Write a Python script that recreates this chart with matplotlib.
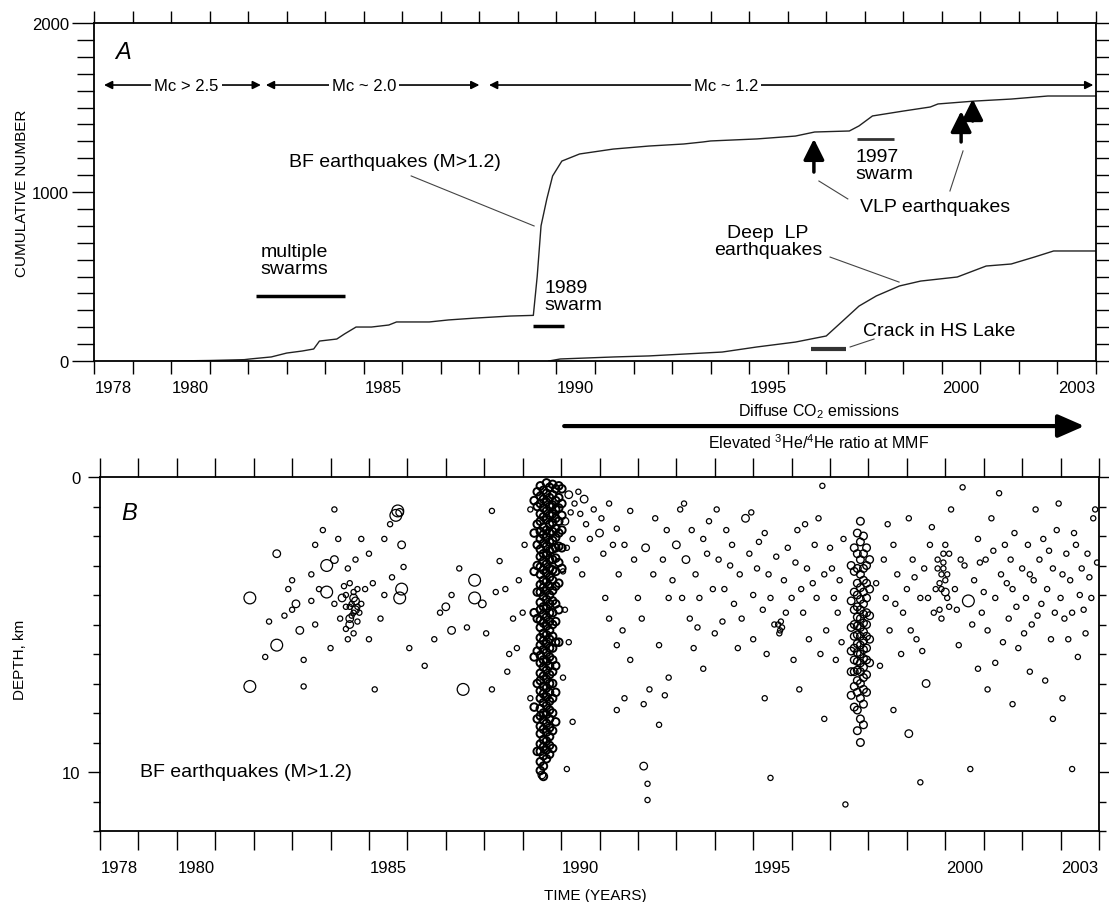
import matplotlib.pyplot as plt
from matplotlib.ticker import FixedLocator, FixedFormatter, NullFormatter, MultipleLocator

plt.rcParams['font.family'] = ['Liberation Sans', 'DejaVu Sans']
plt.rcParams['mathtext.default'] = 'regular'

# ---- panel A: cumulative number of events ----
bf_years = [1980.0, 1981.0, 1981.9, 1982.05, 1982.6, 1983.0, 1983.4, 1983.7, 1983.85, 1984.3,
            1984.5, 1984.8, 1985.2, 1985.65, 1985.85, 1986.7, 1987.2, 1987.9, 1988.8, 1989.4,
            1989.5, 1989.6, 1989.75, 1989.9, 1990.14, 1990.6, 1991.47, 1992.4, 1993.3, 1993.8,
            1994.0, 1995.2, 1996.2, 1996.7, 1997.6, 1997.85, 1998.2, 1999.0, 1999.7, 1999.9,
            2000.85, 2001.8, 2002.75, 2004.0]
bf_counts = [0, 3, 8, 12, 24, 47, 59, 71, 118, 130,
             160, 201, 201, 213, 231, 231, 243, 254, 266, 270,
             500, 800, 959, 1095, 1183, 1225, 1254, 1272, 1284, 1296,
             1302, 1314, 1331, 1355, 1361, 1391, 1450, 1479, 1503, 1521,
             1538, 1550, 1568, 1568]

lp_years = [1989.8, 1990.1, 1991.5, 1992.4, 1993.3, 1994.3, 1995.2, 1996.2, 1997.0, 1997.4,
            1997.85, 1998.3, 1998.9, 1999.45, 2000.4, 2001.15, 2001.8, 2002.4, 2002.9, 2004.0]
lp_counts = [0, 12, 24, 30, 41, 53, 83, 112, 148, 231,
             325, 385, 444, 473, 497, 562, 574, 615, 651, 651]

year_labels = [1978, 1980, 1985, 1990, 1995, 2000, 2003]

mc_spans = [(1978.26, 1982.33), (1982.46, 1988.0), (1988.25, 2003.93)]
mc_labels = ['Mc > 2.5', 'Mc ~ 2.0', 'Mc ~ 1.2']
mc_label_years = [1980.4, 1985.0, 1994.4]

vlp_years = [1996.68, 2000.5, 2000.8]
vlp_tail = [1118, 1296, 1420]
vlp_tip = [1314, 1479, 1550]

# ---- panel B: hypocentres (year, depth km, size class) ----
quakes_1981_1986 = [
    (1981.9, 4.1, 3), (1981.9, 7.1, 3), (1982.6, 2.6, 2), (1982.3, 6.1, 1), (1982.6, 5.7, 3),
    (1982.4, 4.9, 1), (1983.0, 4.5, 1), (1983.1, 4.3, 2), (1982.9, 3.8, 1), (1983.0, 3.5, 1),
    (1983.2, 5.2, 2), (1983.3, 6.2, 1), (1983.3, 7.1, 1), (1983.5, 3.3, 1), (1983.6, 2.3, 1),
    (1983.7, 3.8, 1), (1983.8, 1.8, 1), (1983.9, 3.0, 3), (1983.9, 3.9, 3), (1984.1, 4.3, 1),
    (1984.1, 2.8, 2), (1984.2, 2.1, 1), (1984.25, 4.8, 1), (1984.3, 4.1, 2), (1984.5, 3.6, 1),
    (1984.6, 4.1, 2), (1984.65, 4.5, 2), (1984.7, 3.8, 1), (1984.5, 4.8, 2), (1984.8, 4.3, 1),
    (1984.45, 3.1, 1), (1984.65, 2.8, 1), (1984.8, 2.1, 1), (1984.9, 3.8, 1), (1985.0, 2.6, 1),
    (1985.15, 7.2, 1), (1985.3, 4.8, 1), (1985.4, 4.0, 1), (1985.4, 2.1, 1), (1985.55, 1.6, 1),
    (1985.75, 1.15, 3), (1985.7, 1.3, 3), (1985.8, 1.2, 2), (1985.85, 2.3, 2), (1985.85, 3.8, 3),
    (1985.8, 4.1, 3), (1985.9, 3.05, 1), (1986.05, 5.8, 1), (1985.0, 5.5, 1), (1984.4, 5.15, 1),
    (1984.1, 1.1, 1), (1984.0, 5.8, 1), (1984.4, 4.4, 1), (1984.55, 4.7, 1), (1984.6, 3.9, 1),
    (1984.7, 4.9, 1), (1984.5, 5.0, 2), (1984.35, 3.7, 1), (1984.75, 4.6, 1), (1984.6, 5.3, 1),
    (1984.45, 5.5, 1), (1984.55, 4.3, 1), (1984.4, 4.0, 1), (1984.65, 4.2, 2), (1984.7, 4.4, 1),
    (1984.5, 4.4, 1), (1984.6, 4.6, 1), (1983.5, 4.2, 1), (1983.6, 5.0, 1), (1982.8, 4.7, 1),
    (1985.6, 3.4, 1), (1985.1, 3.6, 1),
]
quakes_1986_1989 = [
    (1986.45, 6.4, 1), (1986.7, 5.5, 1), (1986.85, 4.6, 1), (1987.0, 4.4, 2), (1987.15, 4.0, 1),
    (1987.15, 5.2, 2), (1987.35, 3.1, 1), (1987.45, 7.2, 3), (1987.55, 5.1, 1), (1987.75, 3.5, 3),
    (1987.75, 4.1, 3), (1987.95, 4.3, 2), (1988.05, 5.3, 1), (1988.2, 7.2, 1), (1988.3, 3.9, 1),
    (1988.4, 2.85, 1), (1988.65, 6.0, 1), (1988.75, 4.8, 1), (1989.0, 4.6, 1), (1989.05, 2.3, 1),
    (1989.2, 1.1, 1), (1988.2, 1.15, 1), (1988.55, 3.8, 1), (1988.9, 3.5, 1), (1988.85, 5.8, 1),
    (1989.2, 7.5, 1), (1988.6, 6.6, 1),
]
swarm89_years = [1989.3, 1989.38, 1989.46, 1989.54, 1989.62, 1989.70, 1989.78, 1989.86,
                 1989.94, 1990.02]
swarm89_depths = [
    [0.8, 1.9, 3.2, 4.6, 6.1, 7.8],
    [0.5, 1.0, 1.6, 2.3, 3.0, 3.9, 4.8, 5.9, 7.0, 8.2, 9.3],
    [0.3, 0.65, 0.9, 1.25, 1.5, 1.85, 2.1, 2.45, 2.7, 3.05, 3.3, 3.65, 3.9, 4.25, 4.5, 4.85,
     5.1, 5.45, 5.7, 6.05, 6.3, 6.65, 6.9, 7.25, 7.5, 7.85, 8.1, 8.45, 8.7, 9.05, 9.3, 9.65, 9.95],
    [0.45, 0.75, 1.05, 1.35, 1.7, 1.95, 2.25, 2.6, 2.85, 3.15, 3.5, 3.75, 4.05, 4.4, 4.65,
     4.95, 5.3, 5.55, 5.85, 6.2, 6.45, 6.75, 7.1, 7.35, 7.65, 8.0, 8.25, 8.55, 8.9, 9.15,
     9.45, 9.8, 10.15],
    [0.2, 0.55, 0.85, 1.15, 1.45, 1.8, 2.05, 2.35, 2.65, 2.95, 3.25, 3.55, 3.85, 4.15, 4.45,
     4.75, 5.05, 5.35, 5.65, 5.95, 6.25, 6.55, 6.85, 7.15, 7.45, 7.75, 8.05, 8.35, 8.65, 8.95,
     9.25, 9.55],
    [0.35, 0.7, 1.0, 1.3, 1.6, 1.9, 2.2, 2.5, 2.8, 3.1, 3.4, 3.7, 4.0, 4.3, 4.6, 4.9, 5.2, 5.5,
     5.8, 6.1, 6.4, 6.7, 7.0, 7.3, 7.6, 7.9, 8.2, 8.5, 8.8, 9.1, 9.4],
    [0.25, 0.6, 0.95, 1.25, 1.55, 1.85, 2.15, 2.45, 2.8, 3.15, 3.5, 3.85, 4.2, 4.6, 5.0, 5.4,
     5.8, 6.2, 6.6, 7.0, 7.5, 8.0, 8.6, 9.2],
    [0.4, 0.8, 1.1, 1.4, 1.75, 2.05, 2.4, 2.75, 3.2, 3.7, 4.3, 4.9, 5.6, 6.4, 7.3, 8.3],
    [0.3, 0.7, 1.05, 1.5, 1.9, 2.35, 2.9, 3.6, 4.5, 5.6],
    [0.4, 0.9, 1.3, 1.8, 2.4, 3.1],
]
quakes_1990_1994 = [
    (1990.2, 0.6, 2), (1990.35, 0.9, 1), (1990.5, 1.25, 1), (1990.6, 0.75, 2), (1990.65, 1.6, 1),
    (1990.75, 2.1, 1), (1990.85, 1.1, 1), (1991.0, 1.9, 2), (1991.1, 2.6, 1), (1991.05, 1.4, 1),
    (1991.25, 0.9, 1), (1991.35, 2.3, 1), (1991.45, 1.75, 1), (1990.3, 2.1, 1), (1990.4, 2.8, 1),
    (1990.55, 3.3, 1), (1990.1, 1.5, 2), (1990.15, 2.4, 1), (1990.05, 3.2, 1), (1990.25, 1.2, 1),
    (1990.45, 0.5, 1), (1990.1, 4.5, 1), (1990.2, 5.6, 1), (1990.05, 6.8, 1), (1990.3, 8.3, 1),
    (1991.5, 3.3, 1), (1991.65, 2.3, 1), (1991.8, 1.15, 1), (1991.9, 2.8, 1), (1992.0, 4.1, 1),
    (1992.1, 4.8, 1), (1992.2, 2.4, 2), (1992.4, 3.3, 1), (1992.45, 1.4, 1), (1992.55, 5.7, 1),
    (1992.65, 2.8, 1), (1992.75, 1.8, 1), (1992.8, 4.1, 1), (1992.9, 3.5, 1), (1993.0, 2.3, 2),
    (1993.1, 1.1, 1), (1993.15, 4.1, 1), (1993.25, 2.8, 2), (1993.35, 4.8, 1), (1993.4, 1.8, 1),
    (1993.5, 3.3, 1), (1993.6, 4.1, 1), (1993.7, 2.1, 1), (1993.8, 2.6, 1), (1993.95, 3.8, 1),
    (1994.05, 1.1, 1), (1991.15, 4.1, 1), (1991.25, 4.8, 1), (1991.45, 5.7, 1), (1991.6, 5.2, 1),
    (1991.8, 6.2, 1), (1992.15, 7.7, 1), (1992.3, 7.2, 1), (1992.55, 8.4, 1), (1992.7, 7.4, 1),
    (1992.8, 6.8, 1), (1993.45, 5.8, 1), (1993.7, 6.5, 1), (1994.0, 5.3, 1), (1991.45, 7.9, 1),
    (1991.65, 7.5, 1), (1992.15, 9.8, 2), (1992.25, 10.4, 1), (1992.25, 10.95, 1), (1990.15, 9.9, 1),
    (1989.5, 10.1, 2), (1993.2, 0.9, 1), (1993.55, 5.1, 1), (1993.85, 1.5, 1),
]
quakes_1994_1997 = [
    (1994.1, 2.8, 1), (1994.25, 3.8, 1), (1994.3, 1.8, 1), (1994.45, 2.3, 1), (1994.5, 4.3, 1),
    (1994.65, 3.3, 1), (1994.7, 4.8, 1), (1994.8, 1.4, 2), (1994.9, 2.6, 1), (1995.0, 4.0, 1),
    (1995.0, 5.5, 1), (1995.1, 3.1, 1), (1995.25, 4.5, 1), (1995.3, 1.9, 1), (1995.35, 6.0, 1),
    (1995.45, 4.1, 1), (1995.55, 5.0, 1), (1995.65, 5.0, 1), (1995.7, 5.2, 1), (1995.68, 5.3, 1),
    (1995.75, 5.1, 1), (1995.72, 4.9, 1), (1995.8, 3.5, 1), (1995.9, 2.4, 1), (1996.0, 4.1, 1),
    (1996.05, 6.2, 1), (1996.15, 1.8, 1), (1996.25, 3.8, 1), (1996.3, 4.6, 1), (1996.4, 3.1, 1),
    (1996.45, 5.5, 1), (1996.6, 2.3, 1), (1996.65, 4.1, 1), (1996.7, 1.4, 1), (1996.8, 0.3, 1),
    (1996.85, 3.3, 1), (1996.9, 5.2, 1), (1997.0, 2.4, 1), (1997.1, 4.1, 1), (1997.15, 6.2, 1),
    (1997.25, 3.5, 1), (1997.35, 2.1, 1), (1995.3, 7.5, 1), (1995.45, 10.2, 1), (1996.2, 7.2, 1),
    (1996.85, 8.2, 1), (1997.4, 11.1, 1), (1994.2, 4.9, 1), (1994.4, 3.0, 1), (1994.6, 5.8, 1),
    (1994.95, 1.2, 1), (1995.15, 2.2, 1), (1995.4, 3.3, 1), (1995.6, 2.7, 1), (1995.85, 4.6, 1),
    (1996.1, 2.9, 1), (1996.35, 1.6, 1), (1996.55, 3.6, 1), (1996.75, 6.0, 1), (1997.05, 3.1, 1),
    (1997.2, 4.6, 1), (1997.3, 5.6, 1),
]
swarm97_years = [1997.55, 1997.63, 1997.71, 1997.79, 1997.87, 1997.95, 1998.03]
swarm97_depths = [
    [3.0, 4.2, 5.1, 5.9, 6.6, 7.4],
    [2.4, 3.2, 3.9, 4.5, 5.0, 5.4, 5.8, 6.2, 6.6, 7.1, 7.8],
    [1.9, 2.6, 3.1, 3.6, 4.0, 4.4, 4.75, 5.05, 5.35, 5.65, 5.95, 6.25, 6.55, 6.9, 7.3, 7.9, 8.6],
    [1.5, 2.2, 2.8, 3.3, 3.75, 4.15, 4.5, 4.8, 5.1, 5.4, 5.7, 6.0, 6.3, 6.6, 7.0, 7.5, 8.2, 9.0],
    [2.0, 2.6, 3.1, 3.5, 3.9, 4.3, 4.65, 4.95, 5.25, 5.55, 5.85, 6.15, 6.45, 6.8, 7.2, 7.7, 8.4],
    [2.4, 3.0, 3.6, 4.1, 4.6, 5.0, 5.4, 5.8, 6.2, 6.7, 7.3],
    [2.8, 3.8, 4.7, 5.5, 6.3],
]
quakes_1998_2004 = [
    (1998.4, 2.8, 1), (1998.45, 4.1, 1), (1998.55, 5.2, 1), (1998.65, 2.3, 1), (1998.75, 3.3, 1),
    (1998.85, 6.0, 1), (1998.9, 4.6, 1), (1999.0, 3.8, 1), (1999.05, 1.4, 1), (1999.15, 2.8, 1),
    (1999.25, 5.5, 1), (1999.35, 4.1, 1), (1999.45, 3.1, 1), (1999.5, 7.0, 2), (1999.6, 2.3, 1),
    (1999.7, 4.6, 1), (1999.75, 3.8, 1), (1999.8, 2.8, 1), (1999.9, 3.3, 1), (1999.9, 3.8, 1),
    (1999.95, 2.9, 1), (2000.0, 3.5, 1), (2000.05, 4.1, 1), (1999.85, 4.5, 1), (2000.0, 2.3, 1),
    (2000.1, 2.6, 1), (1999.9, 4.8, 1), (1999.95, 3.1, 1), (2000.0, 3.9, 2), (1999.85, 3.6, 1),
    (2000.15, 1.1, 1), (2000.25, 3.8, 1), (2000.35, 5.7, 1), (2000.45, 0.35, 1), (2000.4, 2.8, 1),
    (2000.6, 4.2, 3), (1999.35, 10.35, 1), (1999.05, 8.7, 2), (1998.65, 7.9, 1),
    (2000.75, 3.5, 1), (2000.85, 2.1, 1), (2000.95, 4.6, 1), (2001.05, 2.8, 1), (2001.1, 5.2, 1),
    (2001.2, 1.4, 1), (2001.3, 4.1, 1), (2001.4, 0.55, 1), (2001.45, 3.3, 1), (2001.55, 2.3, 1),
    (2001.65, 4.8, 1), (2001.7, 2.8, 1), (2001.75, 3.8, 1), (2001.8, 1.9, 1), (2001.9, 5.8, 1),
    (2002.0, 3.1, 1), (2002.1, 4.1, 1), (2002.15, 2.3, 1), (2002.25, 5.0, 1), (2002.3, 3.5, 1),
    (2002.35, 1.1, 1), (2002.45, 2.8, 1), (2002.5, 4.3, 1), (2002.55, 2.1, 1), (2002.65, 3.8, 1),
    (2002.75, 5.5, 1), (2002.8, 3.1, 1), (2002.9, 1.8, 1), (2002.95, 0.9, 1), (2003.0, 4.1, 1),
    (2003.1, 4.8, 1), (2003.15, 2.6, 1), (2003.25, 3.5, 1), (2003.3, 4.6, 1), (2003.4, 2.3, 1),
    (2003.5, 4.0, 1), (2003.55, 3.1, 1), (2003.65, 5.3, 1), (2003.7, 2.6, 1), (2003.8, 4.1, 1),
    (2003.85, 1.4, 1), (2003.9, 1.1, 1), (2000.65, 9.9, 1), (2003.3, 9.9, 1), (2002.8, 8.2, 1),
    (2001.75, 7.7, 1), (2001.1, 7.2, 1), (2003.05, 7.5, 1), (2001.3, 6.3, 1), (2002.2, 6.6, 1),
    (2003.45, 6.1, 1), (2000.85, 6.5, 1), (2002.6, 6.9, 1),
    (1998.2, 3.6, 1), (1998.3, 6.4, 1), (1998.5, 1.6, 1), (1998.7, 4.3, 1), (1999.1, 5.2, 1),
    (1999.2, 3.4, 1), (1999.4, 5.9, 1), (1999.55, 4.1, 1), (1999.65, 1.7, 1), (2000.3, 4.5, 1),
    (2000.5, 3.0, 1), (2000.7, 5.0, 1), (2000.9, 2.9, 1), (2001.0, 3.9, 1), (2001.25, 2.5, 1),
    (2001.5, 5.6, 1), (2001.6, 3.6, 1), (2001.85, 4.4, 1), (2002.05, 5.3, 1), (2002.2, 3.3, 1),
    (2002.4, 4.7, 1), (2002.7, 2.5, 1), (2002.85, 4.6, 1), (2003.05, 3.3, 1), (2003.2, 5.5, 1),
    (2003.35, 1.9, 1), (2003.6, 4.5, 1), (2003.75, 3.4, 1), (2003.95, 2.9, 1), (1999.95, 2.6, 1),
    (2000.05, 3.3, 1), (1999.8, 3.1, 1), (2000.1, 4.4, 1),
]

size_pt2 = {1: 14, 2: 30, 3: 72}

q_years, q_depths, q_sizes, q_lw = [], [], [], []
for group in (quakes_1981_1986, quakes_1986_1989, quakes_1990_1994, quakes_1994_1997, quakes_1998_2004):
    for yr, d, c in group:
        q_years.append(yr)
        q_depths.append(d)
        q_sizes.append(size_pt2[c])
        q_lw.append(0.9)
for col_years, col_depths, lw in ((swarm89_years, swarm89_depths, 1.4), (swarm97_years, swarm97_depths, 1.0)):
    for yr, ds in zip(col_years, col_depths):
        for d in ds:
            q_years.append(yr)
            q_depths.append(d)
            q_sizes.append(size_pt2[2])
            q_lw.append(lw)

W, H = 1109, 903
fig = plt.figure(figsize=(W / 100, H / 100), dpi=100)


def box(left, right, top, bottom):
    return [left / W, 1 - bottom / H, (right - left) / W, (bottom - top) / H]


ax1 = fig.add_axes(box(94, 1096, 24, 362))
ax2 = fig.add_axes(box(100, 1099, 478, 832))


def time_axis(ax, tick_len, label_pad):
    ax.set_xlim(1978, 2004)
    ax.xaxis.set_major_locator(FixedLocator(range(1978, 2005)))
    ax.xaxis.set_major_formatter(NullFormatter())
    ax.xaxis.set_minor_locator(FixedLocator([y + 0.5 for y in year_labels]))
    ax.xaxis.set_minor_formatter(FixedFormatter([str(y) for y in year_labels]))
    ax.tick_params(axis='x', which='major', direction='out', top=True, bottom=True,
                   length=tick_len, width=1.0)
    ax.tick_params(axis='x', which='minor', length=0, labelsize=12, pad=label_pad)
    for s in ax.spines.values():
        s.set_linewidth(1.3)


time_axis(ax1, 9, 14)
time_axis(ax2, 14, 21)

ax1.set_ylim(0, 2000)
ax1.yaxis.set_major_locator(FixedLocator([0, 1000, 2000]))
ax1.yaxis.set_minor_locator(MultipleLocator(100))
ax1.tick_params(axis='y', which='major', direction='out', left=True, right=True, length=16,
                width=1.0, labelsize=12, pad=2)
ax1.tick_params(axis='y', which='minor', direction='out', left=True, right=True, length=12, width=1.0)

ax2.set_ylim(12, 0)
ax2.yaxis.set_major_locator(FixedLocator([0, 10]))
ax2.yaxis.set_minor_locator(MultipleLocator(1))
ax2.tick_params(axis='y', which='major', direction='out', left=True, right=True, length=9,
                width=1.0, labelsize=12, pad=5)
ax2.tick_params(axis='y', which='minor', direction='out', left=True, right=True, length=5, width=1.0)

# cumulative curves
ax1.plot(bf_years, bf_counts, color='#222222', lw=1.0)
ax1.plot(lp_years, lp_counts, color='#222222', lw=1.0)

# magnitude of completeness arrows
for (x0, x1), lab, xl in zip(mc_spans, mc_labels, mc_label_years):
    ax1.annotate('', xy=(x1, 1633), xytext=(x0, 1633),
                 arrowprops=dict(arrowstyle='<|-|>', lw=1.2, color='black',
                                 mutation_scale=12, shrinkA=0, shrinkB=0))
    ax1.text(xl, 1633, lab, ha='center', va='center', fontsize=12,
             bbox=dict(facecolor='white', edgecolor='none', pad=2))

# swarm bars
ax1.plot([1982.2, 1984.5], [385, 385], color='black', lw=2.5, solid_capstyle='butt')
ax1.plot([1989.4, 1990.2], [207, 207], color='black', lw=2.5, solid_capstyle='butt')
ax1.plot([1997.8, 1998.75], [1314, 1314], color='#333333', lw=2.0, solid_capstyle='butt')
ax1.plot([1996.6, 1997.5], [71, 71], color='#333333', lw=3.0, solid_capstyle='butt')

# VLP arrows
for x, y0, y1 in zip(vlp_years, vlp_tail, vlp_tip):
    ax1.annotate('', xy=(x, y1), xytext=(x, y0),
                 arrowprops=dict(arrowstyle='-|>,head_length=0.9,head_width=0.45', lw=2.5,
                                 color='black', mutation_scale=14, shrinkA=0, shrinkB=0))

# annotation text and leader lines
ax1.text(1978.75, 1834, 'A', style='italic', fontsize=17, ha='center', va='center')
ax1.text(1985.81, 1178, 'BF earthquakes (M>1.2)', fontsize=14, ha='center', va='center')
ax1.plot([1986.23, 1989.42], [1095, 799], color='#444444', lw=0.8)
ax1.text(1982.33, 598, 'multiple\nswarms', fontsize=14, ha='left', va='center', linespacing=1.05)
ax1.text(1989.7, 385, '1989\nswarm', fontsize=14, ha='left', va='center', linespacing=1.05)
ax1.text(1997.77, 1160, '1997\nswarm', fontsize=14, ha='left', va='center', linespacing=1.05)
ax1.text(1999.82, 917, 'VLP earthquakes', fontsize=14, ha='center', va='center')
ax1.plot([1996.81, 1997.56], [1065, 959], color='#444444', lw=0.8)
ax1.plot([2000.55, 2000.21], [1243, 1006], color='#444444', lw=0.8)
ax1.text(1995.49, 710, 'Deep  LP\nearthquakes', fontsize=14, ha='center', va='center',
         multialignment='center', linespacing=1.05)
ax1.plot([1997.1, 1998.89], [615, 467], color='#444444', lw=0.8)
ax1.text(1997.95, 178, 'Crack in HS Lake', fontsize=14, ha='left', va='center')
ax1.plot([1997.62, 1998.24], [83, 130], color='#444444', lw=0.8)

# fluid-emission arrow between panels
ax1.annotate('', xy=(2003.7, -385), xytext=(1990.2, -385), annotation_clip=False,
             arrowprops=dict(arrowstyle='-|>,head_length=0.8,head_width=0.35', lw=3,
                             color='black', mutation_scale=20, shrinkA=0, shrinkB=0))
ax1.text(1996.8, -296, 'Diffuse CO$_2$ emissions', fontsize=11.5, ha='center', va='center')
ax1.text(1996.8, -479, 'Elevated $^3$He/$^4$He ratio at MMF', fontsize=11.5, ha='center', va='center')

# panel B
ax2.scatter(q_years, q_depths, s=q_sizes, facecolors='none', edgecolors='black', linewidths=q_lw)
ax2.text(1978.75, 1.19, 'B', style='italic', fontsize=17, ha='center', va='center')
ax2.text(1979.04, 10.0, 'BF earthquakes (M>1.2)', fontsize=14, ha='left', va='center')

fig.text(22 / W, 1 - 193 / H, 'CUMULATIVE NUMBER', rotation=90, fontsize=11, ha='center', va='center')
fig.text(20 / W, 1 - 660 / H, 'DEPTH, km', rotation=90, fontsize=11, ha='center', va='center')
fig.text(595 / W, 1 - 896 / H, 'TIME (YEARS)', fontsize=11, ha='center', va='center')

fig.savefig('out.png', dpi=100)
